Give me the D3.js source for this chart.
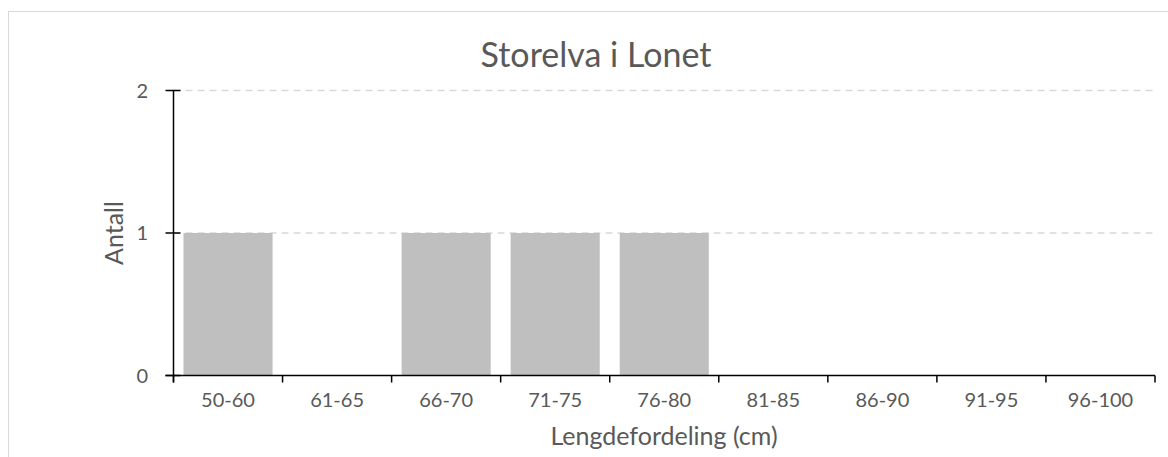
<!DOCTYPE html>
<html>
<head>
<meta charset="utf-8">
<script src="https://cdn.jsdelivr.net/npm/d3@7"></script>
<style>
  body { margin: 0; background: #fff; }
  text { font-family: Lato, "Liberation Sans", sans-serif; fill: #595959; }
</style>
</head>
<body>
<svg width="1168" height="457"></svg>
<script>
// length classes and fish counts
var categories = ['50-60', '61-65', '66-70', '71-75', '76-80', '81-85', '86-90', '91-95', '96-100'];
var counts = [1, 0, 1, 1, 1, 0, 0, 0, 0];
var yTicks = [0, 1, 2];

var svg = d3.select('svg');

// chart frame
svg.append('rect')
  .attr('x', 8.5).attr('y', 11.5)
  .attr('width', 1170).attr('height', 460)
  .attr('fill', 'none').attr('stroke', '#d9d9d9');

var plotLeft = 173.5, plotRight = 1155, plotTop = 90.5, plotBottom = 375.5;

var x = d3.scaleBand().domain(categories).range([plotLeft, plotRight]).paddingInner(0.183).paddingOuter(0.0915);
var y = d3.scaleLinear().domain([0, 2]).range([plotBottom, plotTop]);

// gridlines
svg.selectAll('.grid')
  .data(yTicks.filter(function(d) { return d > 0; }))
  .enter().append('line')
  .attr('x1', plotLeft).attr('x2', plotRight)
  .attr('y1', function(d) { return y(d); })
  .attr('y2', function(d) { return y(d); })
  .attr('stroke', '#d9d9d9')
  .attr('stroke-width', 1.5)
  .attr('stroke-dasharray', '7,5');

// bars
svg.selectAll('.bar')
  .data(categories)
  .enter().append('rect')
  .attr('x', function(d) { return x(d); })
  .attr('width', x.bandwidth())
  .attr('y', function(d, i) { return y(counts[i]); })
  .attr('height', function(d, i) { return plotBottom - y(counts[i]); })
  .attr('fill', '#bfbfbf');

// x axis
var xAxis = svg.append('g').attr('transform', 'translate(0,' + plotBottom + ')');
xAxis.append('line').attr('x1', plotLeft - 8).attr('x2', plotRight).attr('stroke', '#000').attr('stroke-width', 1.5);
var step = x.step();
var tickXs = d3.range(categories.length + 1).map(function(i) { return plotLeft + i * step; });
xAxis.selectAll('.xt')
  .data(tickXs)
  .enter().append('line')
  .attr('x1', function(d) { return d; }).attr('x2', function(d) { return d; })
  .attr('y1', 0).attr('y2', 7)
  .attr('stroke', '#000').attr('stroke-width', 1.5);
xAxis.selectAll('.xl')
  .data(categories)
  .enter().append('text')
  .attr('x', function(d) { return x(d) + x.bandwidth() / 2; })
  .attr('y', 31)
  .attr('text-anchor', 'middle')
  .style('font-size', '20px')
  .text(function(d) { return d; });

// y axis
var yAxis = svg.append('g');
yAxis.append('line').attr('x1', plotLeft).attr('x2', plotLeft)
  .attr('y1', plotTop).attr('y2', plotBottom + 7)
  .attr('stroke', '#000').attr('stroke-width', 1.5);
yAxis.selectAll('.yt')
  .data(yTicks)
  .enter().append('line')
  .attr('x1', plotLeft - 8).attr('x2', plotLeft + 7)
  .attr('y1', function(d) { return y(d); })
  .attr('y2', function(d) { return y(d); })
  .attr('stroke', '#000').attr('stroke-width', 1.5);
yAxis.selectAll('.yl')
  .data(yTicks)
  .enter().append('text')
  .attr('x', 148)
  .attr('y', function(d) { return y(d) + 7; })
  .attr('text-anchor', 'end')
  .style('font-size', '20px')
  .text(function(d) { return d; });

// titles
svg.append('text')
  .attr('x', 596).attr('y', 67)
  .attr('text-anchor', 'middle')
  .style('font-size', '34px')
  .text('Storelva i Lonet');

svg.append('text')
  .attr('x', 664).attr('y', 445)
  .attr('text-anchor', 'middle')
  .style('font-size', '25px')
  .text('Lengdefordeling (cm)');

svg.append('text')
  .attr('transform', 'translate(123,233) rotate(-90)')
  .attr('text-anchor', 'middle')
  .style('font-size', '25px')
  .text('Antall');
</script>
</body>
</html>
